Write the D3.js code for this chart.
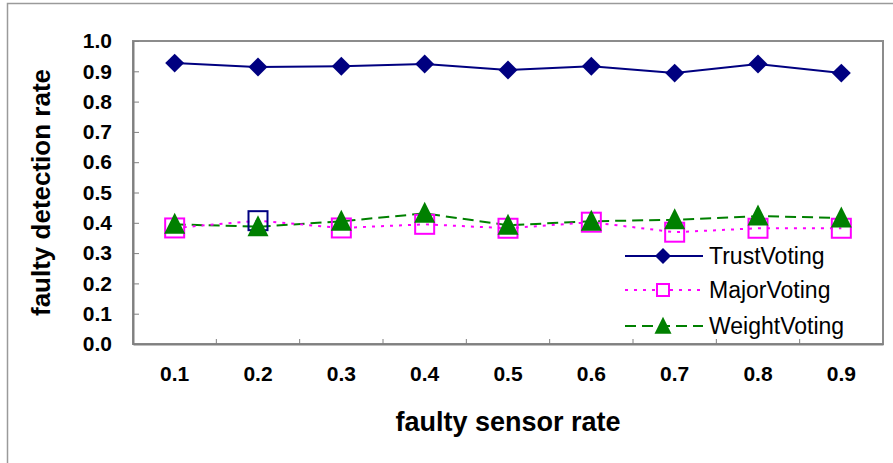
<!DOCTYPE html>
<html>
<head>
<script src="https://d3js.org/d3.v7.min.js"></script>
<style>
  body { margin: 0; background: #fff; }
  text { font-family: Arial, 'Liberation Sans', sans-serif; }
</style>
</head>
<body>
<svg width="893" height="463"></svg>
<script>

// data
var categories = ["0.1", "0.2", "0.3", "0.4", "0.5", "0.6", "0.7", "0.8", "0.9"];
var trustVoting  = [0.927, 0.914, 0.917, 0.924, 0.904, 0.917, 0.894, 0.924, 0.894];
var majorVoting  = [0.383, 0.407, 0.383, 0.395, 0.382, 0.402, 0.369, 0.382, 0.382];
var weightVoting = [0.395, 0.387, 0.405, 0.431, 0.392, 0.405, 0.41, 0.422, 0.416];
var yTicks = [0, 0.1, 0.2, 0.3, 0.4, 0.5, 0.6, 0.7, 0.8, 0.9, 1.0];
var legendKeys = ["TrustVoting", "MajorVoting", "WeightVoting"];

var svg = d3.select("svg");
var plotLeft = 133, plotTop = 41, plotRight = 883, plotBottom = 344;

var xScale = d3.scaleBand().domain(categories).range([plotLeft, plotRight]).padding(0);
var yScale = d3.scaleLinear().domain([0, 1]).range([plotBottom, plotTop]);

// outer chart border
svg.append("rect")
  .attr("x", 7.5).attr("y", 3.5)
  .attr("width", 900).attr("height", 480)
  .attr("fill", "#fff")
  .attr("stroke", "#9a9a9a").attr("stroke-width", 1.5);

// plot area border
svg.append("rect")
  .attr("x", plotLeft).attr("y", plotTop)
  .attr("width", plotRight - plotLeft).attr("height", plotBottom - plotTop)
  .attr("fill", "none")
  .attr("stroke", "#8c8c8c").attr("stroke-width", 2);

// y axis
var yAxis = svg.append("g")
  .attr("transform", "translate(" + plotLeft + ",0)")
  .call(d3.axisLeft(yScale).tickValues(yTicks).tickFormat(d3.format(".1f"))
    .tickSizeInner(-6).tickSizeOuter(0).tickPadding(21));
yAxis.select(".domain").attr("stroke", "#808080").attr("stroke-width", 2);
yAxis.selectAll(".tick line").attr("stroke", "#808080");
yAxis.selectAll("text").style("font-size", "21px").style("font-weight", "bold").attr("fill", "#000");

// x axis labels
var xAxis = svg.append("g")
  .attr("transform", "translate(0," + plotBottom + ")")
  .call(d3.axisBottom(xScale).tickSize(0).tickPadding(22));
xAxis.select(".domain").attr("stroke", "#808080").attr("stroke-width", 2);
xAxis.selectAll("text").style("font-size", "21px").style("font-weight", "bold").attr("fill", "#000");

// x tick marks between categories
var boundary = d3.scaleLinear().domain([0, categories.length]).range([plotLeft, plotRight]);
svg.append("g")
  .selectAll("line")
  .data(d3.range(1, categories.length))
  .enter().append("line")
  .attr("x1", function (d) { return boundary(d); })
  .attr("x2", function (d) { return boundary(d); })
  .attr("y1", plotBottom).attr("y2", plotBottom - 5)
  .attr("stroke", "#808080");

// axis titles
svg.append("text")
  .attr("x", (plotLeft + plotRight) / 2).attr("y", 431)
  .attr("text-anchor", "middle")
  .style("font-size", "27px").style("font-weight", "bold")
  .text("faulty sensor rate");

svg.append("text")
  .attr("transform", "translate(50," + (plotTop + plotBottom) / 2 + ")rotate(-90)")
  .attr("text-anchor", "middle")
  .style("font-size", "26px").style("font-weight", "bold")
  .text("faulty detection rate");

var cx = function (d, i) { return xScale(categories[i]) + xScale.bandwidth() / 2; };

var line = d3.line()
  .x(function (d, i) { return cx(d, i); })
  .y(function (d) { return yScale(d); });

// lines
svg.append("path").datum(weightVoting).attr("d", line)
  .attr("fill", "none").attr("stroke", "#008000").attr("stroke-width", 2)
  .attr("stroke-dasharray", "11,6");
svg.append("path").datum(majorVoting).attr("d", line)
  .attr("fill", "none").attr("stroke", "#FF00FF").attr("stroke-width", 2)
  .attr("stroke-dasharray", "3,6");
svg.append("path").datum(trustVoting).attr("d", line)
  .attr("fill", "none").attr("stroke", "#000080").attr("stroke-width", 2);

// markers
var diamond = d3.symbol().type(d3.symbolSquare).size(180);
var triangle = function (s) {
  return "M0," + (-s * 0.55) + "L" + (s / 2) + "," + (s * 0.45) + "L" + (-s / 2) + "," + (s * 0.45) + "Z";
};

svg.append("g").selectAll("rect")
  .data(majorVoting).enter().append("rect")
  .attr("x", function (d, i) { return cx(d, i) - 9.5; })
  .attr("y", function (d) { return yScale(d) - 9.5; })
  .attr("width", 19).attr("height", 19)
  .attr("fill", "none")
  .attr("stroke", function (d, i) { return i === 1 ? "#000080" : "#FF00FF"; })
  .attr("stroke-width", 2);

svg.append("g").selectAll("path")
  .data(weightVoting).enter().append("path")
  .attr("d", triangle(21))
  .attr("transform", function (d, i) { return "translate(" + cx(d, i) + "," + yScale(d) + ")"; })
  .attr("fill", "#008000");

svg.append("g").selectAll("path")
  .data(trustVoting).enter().append("path")
  .attr("d", diamond)
  .attr("transform", function (d, i) { return "translate(" + cx(d, i) + "," + yScale(d) + ")rotate(45)"; })
  .attr("fill", "#000080");

// legend
var legendColors = ["#000080", "#FF00FF", "#008000"];
var legendDash = [null, "3,6", "11,6"];
var lg = svg.selectAll(".legend").data(legendKeys)
  .enter().append("g")
  .attr("class", "legend")
  .attr("transform", function (d, i) { return "translate(625," + [256, 290, 326][i] + ")"; });

lg.append("line")
  .attr("x1", 0).attr("x2", 78)
  .attr("stroke", function (d, i) { return legendColors[i]; })
  .attr("stroke-width", 2)
  .attr("stroke-dasharray", function (d, i) { return legendDash[i]; });

lg.each(function (d, i) {
  var g = d3.select(this);
  if (i === 0) {
    g.append("path").attr("d", d3.symbol().type(d3.symbolSquare).size(128))
      .attr("transform", "translate(38,0)rotate(45)").attr("fill", "#000080");
  } else if (i === 1) {
    g.append("rect").attr("x", 32).attr("y", -6).attr("width", 12).attr("height", 12)
      .attr("fill", "#fff").attr("stroke", "#FF00FF").attr("stroke-width", 2);
  } else {
    g.append("path").attr("d", triangle(17))
      .attr("transform", "translate(38,0)").attr("fill", "#008000");
  }
});

lg.append("text")
  .attr("x", 84).attr("y", 8)
  .style("font-size", "23px")
  .text(function (d) { return d; });

</script>
</body>
</html>
